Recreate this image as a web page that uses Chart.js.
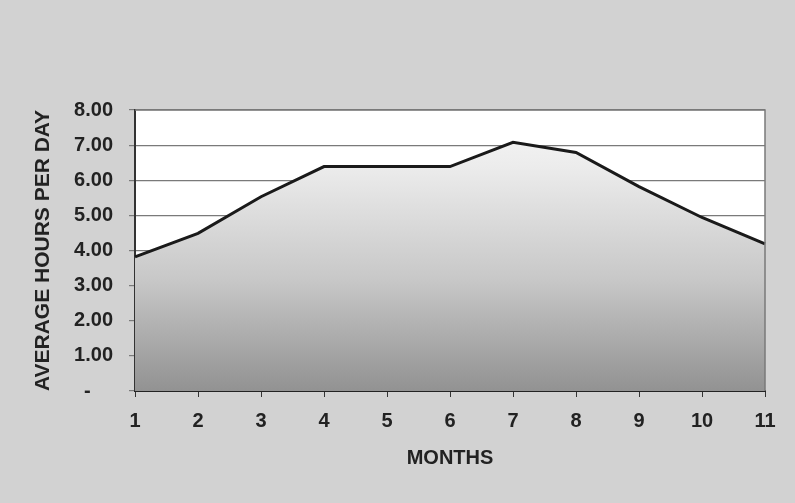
<!DOCTYPE html>
<html><head><meta charset="utf-8">
<script src="https://cdn.jsdelivr.net/npm/chart.js@4"></script>
<style>
html,body{margin:0;padding:0;background:#d2d2d2;}
#wrap{width:795px;height:503px;position:relative;background:#d2d2d2;}
</style></head>
<body><div id="wrap"><canvas id="c" width="795" height="503"></canvas></div>
<script>
const months = ['1','2','3','4','5','6','7','8','9','10','11'];
const hours = [3.82, 4.49, 5.53, 6.39, 6.39, 6.39, 7.08, 6.79, 5.82, 4.94, 4.19];
const yTickLabels = {0:'-    ',1:'1.00',2:'2.00',3:'3.00',4:'4.00',5:'5.00',6:'6.00',7:'7.00',8:'8.00'};

const plotBg = {
  id:'plotBg',
  beforeDraw(chart){
    const {ctx, chartArea:a} = chart;
    ctx.save();
    ctx.fillStyle = '#ffffff';
    ctx.fillRect(a.left, a.top, a.right-a.left, a.bottom-a.top);
    ctx.restore();
  },
  afterDraw(chart){
    const {ctx, chartArea:a} = chart;
    ctx.save();
    ctx.strokeStyle = '#7a7a7a';
    ctx.lineWidth = 1.5;
    ctx.beginPath();
    ctx.moveTo(a.left, a.top); ctx.lineTo(a.right, a.top); ctx.lineTo(a.right, a.bottom);
    ctx.stroke();
    ctx.restore();
  }
};

new Chart(document.getElementById('c'), {
  type:'line',
  data:{labels:months, datasets:[{
    data:hours,
    borderColor:'#1a1a1a',
    borderWidth:3,
    pointRadius:0,
    tension:0,
    fill:'origin',
    backgroundColor(ctx){
      const a = ctx.chart.chartArea;
      if(!a) return '#bbb';
      const g = ctx.chart.ctx.createLinearGradient(0, a.top, 0, a.bottom);
      g.addColorStop(0, '#f8f8f8');
      g.addColorStop(0.2, '#ececec');
      g.addColorStop(0.6, '#c8c8c8');
      g.addColorStop(1, '#929292');
      return g;
    }
  }]},
  options:{
    responsive:false, animation:false,
    layout:{padding:{left:0, right:30, top:110, bottom:0}},
    plugins:{legend:{display:false}, tooltip:{enabled:false}},
    scales:{
      x:{
        offset:false,
        afterFit(s){ s.height = 112; },
        grid:{drawOnChartArea:false, color:'#333', tickLength:6, lineWidth:1},
        border:{color:'#222', width:2},
        ticks:{color:'#222', font:{family:'Liberation Sans', size:20, weight:'bold'}, padding:12, maxRotation:0},
        title:{display:true, text:'MONTHS', color:'#222', font:{family:'Liberation Sans', size:20, weight:'bold'}, padding:{top:0,bottom:33}}
      },
      y:{
        min:0, max:8,
        afterFit(s){ s.width = 135; },
        ticks:{stepSize:1, color:'#222', font:{family:'Liberation Sans', size:20, weight:'bold'}, padding:16,
          callback:(v)=>yTickLabels[v]},
        grid:{color:'#7a7a7a', lineWidth:1.2, tickLength:6},
        border:{color:'#333', width:2},
        title:{display:true, text:'AVERAGE HOURS PER DAY', color:'#222', font:{family:'Liberation Sans', size:21, weight:'bold'}, padding:{top:31,bottom:0}}
      }
    }
  },
  plugins:[plotBg]
});
</script></body></html>
